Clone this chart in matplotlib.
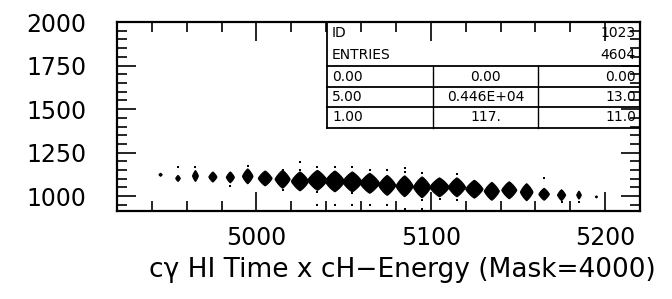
import numpy as np
import matplotlib
matplotlib.use("Agg")
import matplotlib.pyplot as plt
from matplotlib.patches import Polygon
from matplotlib.ticker import MultipleLocator

# column centres (x bins) and the main blob of each column
bin_x = [4945, 4955, 4965, 4975, 4985, 4995, 5005, 5015, 5025, 5035, 5045, 5055, 5065,
         5075, 5085, 5095, 5105, 5115, 5125, 5135, 5145, 5155, 5165, 5175, 5185, 5195]
blob_y = [1123, 1102, 1116, 1110, 1108, 1114, 1102, 1097, 1085, 1091, 1085, 1082, 1074,
          1062, 1057, 1051, 1051, 1051, 1040, 1028, 1034, 1023, 1011, 1006, 1006, 996]
blob_w = [1.8, 2.6, 3.3, 4.6, 4.6, 6.0, 7.9, 8.6, 9.9, 11.2, 11.2, 11.2, 11.2,
          9.9, 9.9, 9.9, 11.2, 9.9, 9.9, 8.6, 8.6, 7.2, 6.0, 4.6, 2.6, 1.2]
blob_h = [17, 34, 62, 57, 62, 85, 85, 102, 108, 114, 119, 114, 114,
          114, 119, 119, 108, 108, 102, 102, 97, 97, 68, 62, 45, 11]

# isolated single-entry cells
dot_x = [4955, 4965, 4985, 4995, 5015, 5015, 5025, 5025, 5035, 5035, 5045, 5055, 5055,
         5065, 5075, 5085, 5085, 5095, 5095, 5105, 5115, 5115, 5165, 5175, 5185,
         5035, 5045, 5055, 5065, 5075, 5085, 5095]
dot_y = [1166, 1166, 1057, 1176, 1152, 1034, 1195, 1148, 1170, 1023, 1170, 1166, 1017,
         1148, 1148, 1163, 1138, 1136, 977, 983, 1129, 977, 1106, 966, 968,
         949, 949, 949, 949, 949, 926, 926]

stat_rows = [("0.00", "0.00", "0.00"),
             ("5.00", "0.446E+04", "13.0"),
             ("1.00", "117.", "11.0")]
hist_id = "1023"
entries = "4604"

fig = plt.figure(figsize=(6.72, 2.99), dpi=100)
ax = fig.add_axes([0.1741, 0.2943, 0.7783, 0.6321])

# blob outline: a rounded diamond (superellipse)
t = np.linspace(0, 2 * np.pi, 80)
p = 1.2
ux = np.sign(np.cos(t)) * np.abs(np.cos(t)) ** (2 / p)
uy = np.sign(np.sin(t)) * np.abs(np.sin(t)) ** (2 / p)
for x, y, w, h in zip(bin_x, blob_y, blob_w, blob_h):
    pts = np.column_stack([x + ux * w / 2, y + uy * h / 2])
    ax.add_patch(Polygon(pts, closed=True, facecolor="black", edgecolor="black", lw=0.8))

ax.scatter(dot_x, dot_y, s=3, marker="s", color="black", linewidths=0)

ax.set_xlim(4920, 5220)
ax.set_ylim(915, 2000)
ax.xaxis.set_major_locator(MultipleLocator(100))
ax.xaxis.set_minor_locator(MultipleLocator(20))
ax.yaxis.set_major_locator(MultipleLocator(250))
ax.yaxis.set_minor_locator(MultipleLocator(50))
ax.tick_params(which="both", direction="in", top=True, right=True, width=1.2, color="black")
ax.tick_params(which="major", length=14)
ax.tick_params(which="minor", length=7)
ax.tick_params(axis="x", which="major", labelsize=17, pad=11)
ax.tick_params(axis="y", which="major", labelsize=17, pad=22)
for s in ax.spines.values():
    s.set_linewidth(1.6)

# statistics box
tr = ax.transAxes
bx = 0.4015
lines_y = [0.767, 0.656, 0.550, 0.439]
ax.plot([bx, bx], [1, lines_y[-1]], transform=tr, color="black", lw=1.3, clip_on=False)
for ly in lines_y:
    ax.plot([bx, 1], [ly, ly], transform=tr, color="black", lw=1.3, clip_on=False)
for cx in (0.604, 0.805):
    ax.plot([cx, cx], [lines_y[0], lines_y[-1]], transform=tr, color="black", lw=1.0)

fs = 10
ax.text(0.411, 0.942, "ID", transform=tr, fontsize=fs, va="center", ha="left")
ax.text(0.992, 0.942, hist_id, transform=tr, fontsize=fs, va="center", ha="right")
ax.text(0.411, 0.825, "ENTRIES", transform=tr, fontsize=fs, va="center", ha="left")
ax.text(0.992, 0.825, entries, transform=tr, fontsize=fs, va="center", ha="right")
for ry, (a, b, c) in zip([0.709, 0.603, 0.497], stat_rows):
    ax.text(0.411, ry, a, transform=tr, fontsize=fs, va="center", ha="left")
    ax.text(0.705, ry, b, transform=tr, fontsize=fs, va="center", ha="center")
    ax.text(0.992, ry, c, transform=tr, fontsize=fs, va="center", ha="right")

fig.text(402 / 672, 1 - 270 / 299, "c\u03b3 HI Time x cH\u2212Energy (Mask=4000)",
         fontsize=19, ha="center", va="center")

fig.savefig("out.png", dpi=100)
